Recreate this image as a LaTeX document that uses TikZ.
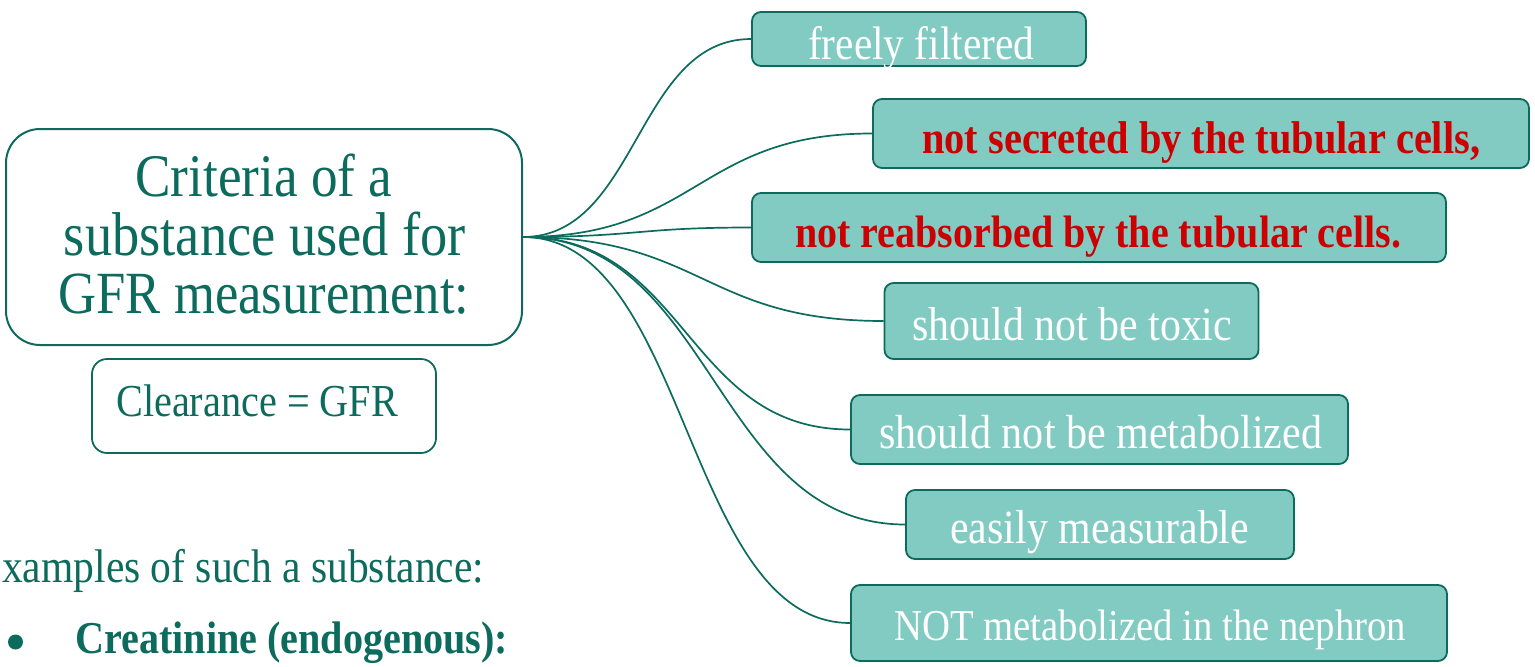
\documentclass[tikz,border=0pt]{standalone}
\usepackage{fontspec}
\setmainfont{Liberation Serif}[FakeStretch=0.88]
\definecolor{teal1}{HTML}{0C6B5C}
\definecolor{fillc}{HTML}{82CBC3}
\definecolor{redc}{HTML}{CC0000}
\newcommand{\fitw}[2]{\resizebox{#1pt}{!}{\fontsize{40}{48}\selectfont #2}}
\tikzset{
  rootbox/.style={draw=teal1, line width=2pt, rounded corners=34pt, inner sep=0pt},
  subbox/.style={draw=teal1, line width=1.8pt, rounded corners=15pt, inner sep=0pt},
  leafbox/.style={draw=teal1, fill=fillc, line width=1.8pt, rounded corners=9pt, inner sep=0pt},
  wtext/.style={text=white, anchor=base west, inner sep=0pt},
  rtext/.style={text=redc, anchor=base west, inner sep=0pt, font=\bfseries},
  ttext/.style={text=teal1, inner sep=0pt},
  conn/.style={draw=teal1, line width=1.7pt}
}
\begin{document}
\begin{tikzpicture}[x=1pt, y=-1pt]
\useasboundingbox (0,0) rectangle (1535,667);

% root and sub boxes
\node[rootbox, minimum width=516pt, minimum height=216pt] (root) at (264,237) {};
\node[ttext, anchor=base] (r1) at (264,196) {\fitw{257}{Criteria of a}};
\node[ttext, anchor=base] (r2) at (265,255) {\fitw{402}{substance used for}};
\node[ttext, anchor=base] (r3) at (264,313) {\fitw{411}{GFR measurement:}};

\node[subbox, minimum width=344pt, minimum height=94pt] (clr) at (264,406) {};
\node[ttext, anchor=base west] (clrt) at (116,416) {\fitw{282}{Clearance = GFR}};

% examples text
\node[ttext, anchor=base west] (ex) at (2,582) {\fitw{482}{xamples of such a substance:}};
\fill[teal1] (15.5,642) circle (7.5pt) node (bul) {};
\node[ttext, anchor=base west] (crea) at (75,653) {\fitw{433}{\bfseries Creatinine (endogenous):}};

% leaf boxes
\node[leafbox, minimum width=334pt, minimum height=54pt] (b1) at (919,39) {};
\node[leafbox, minimum width=656pt, minimum height=69pt] (b2) at (1201,133.5) {};
\node[leafbox, minimum width=694pt, minimum height=69pt] (b3) at (1099,227.5) {};
\node[leafbox, minimum width=374pt, minimum height=76pt] (b4) at (1071.5,321) {};
\node[leafbox, minimum width=497pt, minimum height=69pt] (b5) at (1099.5,429.5) {};
\node[leafbox, minimum width=388pt, minimum height=69pt] (b6) at (1100,524.5) {};
\node[leafbox, minimum width=596pt, minimum height=76pt] (b7) at (1149,623) {};

\node[wtext] (t1) at (808,59) {\fitw{226}{freely filtered}};
\node[rtext] (t2) at (922,153) {\fitw{558}{\bfseries not secreted by the tubular cells,}};
\node[rtext] (t3) at (795,247) {\fitw{606}{\bfseries not reabsorbed by the tubular cells.}};
\node[wtext] (t4) at (912,340) {\fitw{320}{should not be toxic}};
\node[wtext] (t5) at (879,448) {\fitw{443}{should not be metabolized}};
\node[wtext] (t6) at (950,543) {\fitw{299}{easily measurable}};
\node[wtext] (t7) at (894,640) {\fitw{512}{NOT metabolized in the nephron}};

% connectors
\coordinate (hub) at (root.east);
\draw[conn] (hub) .. controls +(115,0) and +(-115,0) .. (b1.west);
\draw[conn] (hub) .. controls +(175,0) and +(-175,0) .. (b2.west);
\draw[conn] (hub) .. controls +(115,0) and +(-115,0) .. (b3.west);
\draw[conn] (hub) .. controls +(180,0) and +(-180,0) .. (b4.west);
\draw[conn] (hub) .. controls +(165,0) and +(-165,0) .. (b5.west);
\draw[conn] (hub) .. controls +(190,0) and +(-190,0) .. (b6.west);
\draw[conn] (hub) .. controls +(165,0) and +(-165,0) .. (b7.west);
\end{tikzpicture}
\end{document}
